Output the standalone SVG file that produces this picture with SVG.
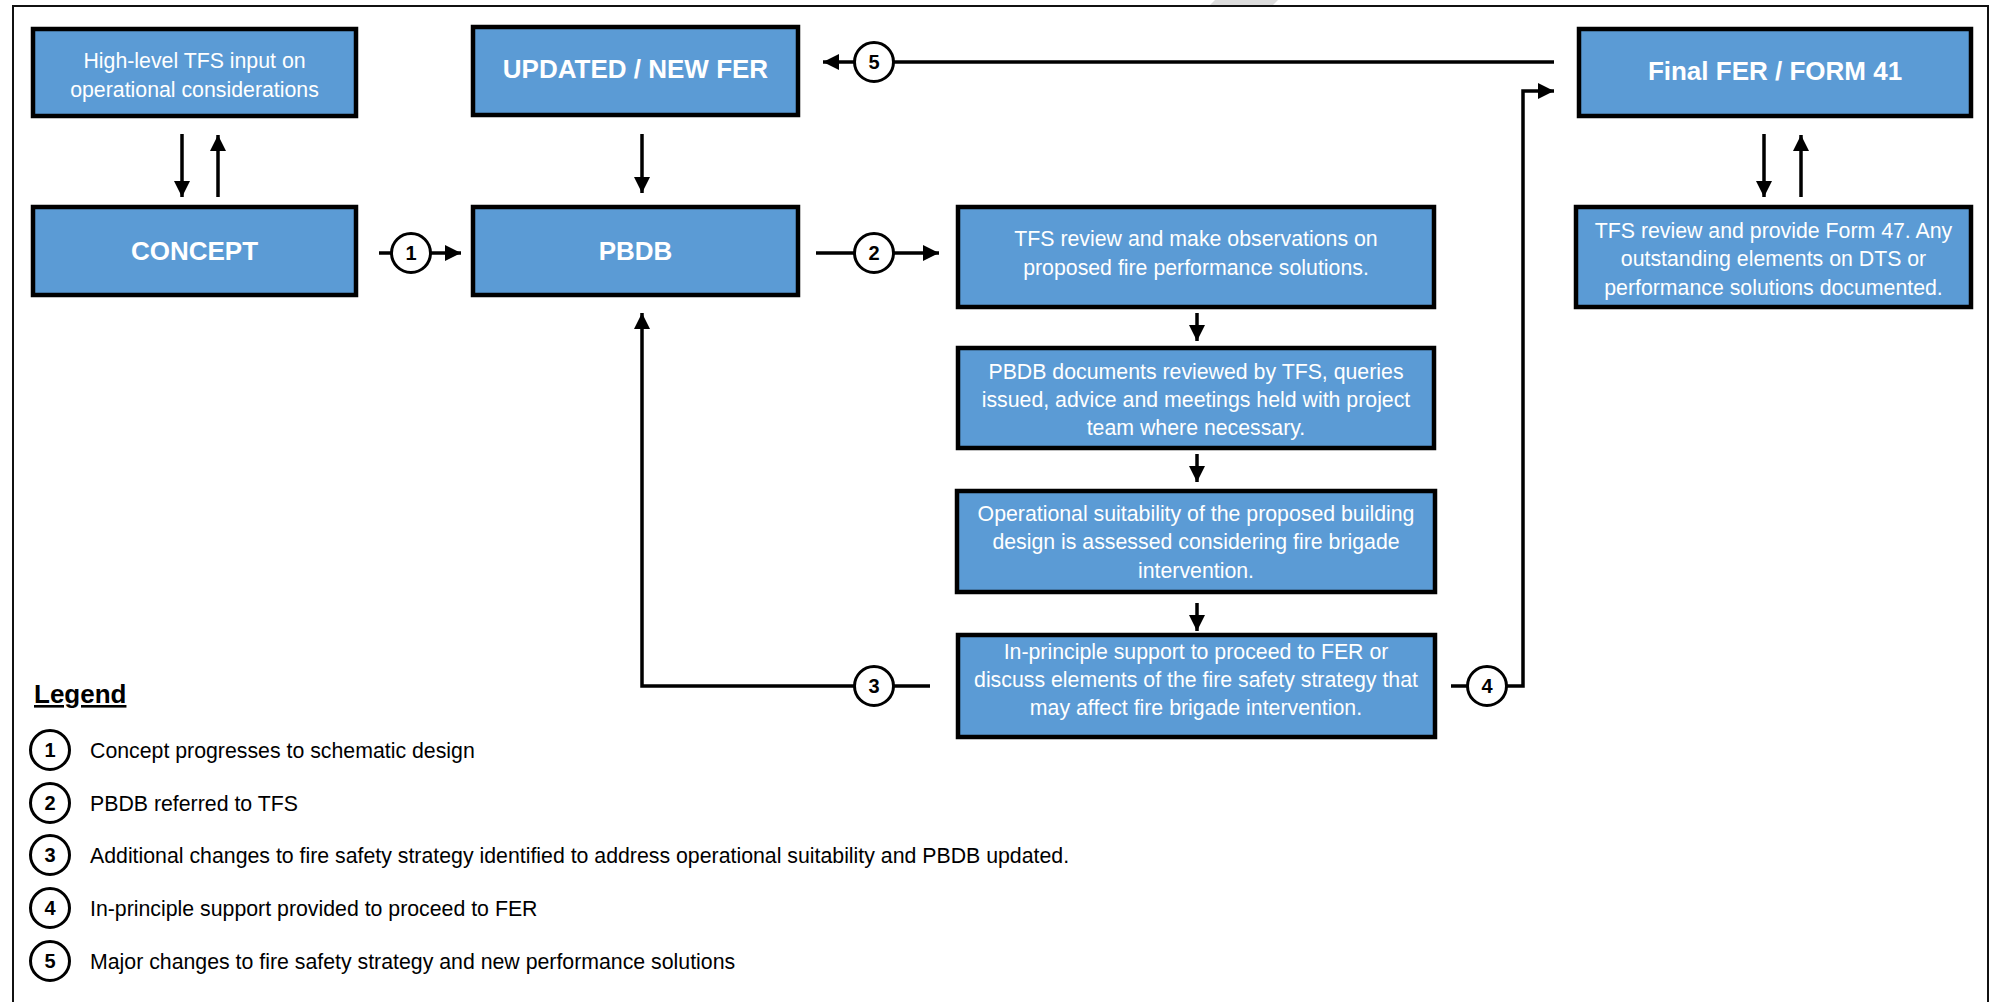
<svg xmlns="http://www.w3.org/2000/svg" width="1993" height="1002" viewBox="0 0 1993 1002">
<defs>
<style>
.box{fill:#5B9BD5;stroke:#000;stroke-width:4.5}
.t{font-family:"Liberation Sans",Arial,sans-serif;font-size:21.3px;fill:#fff;text-anchor:middle}
.tb{font-family:"Liberation Sans",Arial,sans-serif;font-size:26px;font-weight:bold;fill:#fff;text-anchor:middle}
.ln{fill:none;stroke:#000;stroke-width:3.5}
.c{fill:#fff;stroke:#000;stroke-width:3}
.n{font-family:"Liberation Sans",Arial,sans-serif;font-size:20px;font-weight:bold;fill:#000;text-anchor:middle}
.lg{font-family:"Liberation Sans",Arial,sans-serif;font-size:21.3px;fill:#000}
</style>
<marker id="ah" viewBox="0 0 16 16" refX="16" refY="8" markerWidth="16" markerHeight="16" markerUnits="userSpaceOnUse" orient="auto">
<path d="M0,0 L16,8 L0,16 Z" fill="#000"/>
</marker>
</defs>
<rect width="1993" height="1002" fill="#fff"/>
<polygon points="1215,0 1278,0 1273,5 1210,5" fill="#dcdcdc"/>
<polyline points="13,1002 13,6 1988,6 1988,1002" fill="none" stroke="#111" stroke-width="2"/>

<g id="connectors">
<line class="ln" x1="182" y1="134" x2="182" y2="197" marker-end="url(#ah)"/>
<line class="ln" x1="218" y1="197" x2="218" y2="135" marker-end="url(#ah)"/>
<line class="ln" x1="642" y1="134" x2="642" y2="193" marker-end="url(#ah)"/>
<line class="ln" x1="1764" y1="134" x2="1764" y2="197" marker-end="url(#ah)"/>
<line class="ln" x1="1801" y1="197" x2="1801" y2="135" marker-end="url(#ah)"/>
<line class="ln" x1="1197" y1="313" x2="1197" y2="341" marker-end="url(#ah)"/>
<line class="ln" x1="1197" y1="454" x2="1197" y2="482" marker-end="url(#ah)"/>
<line class="ln" x1="1197" y1="603" x2="1197" y2="631" marker-end="url(#ah)"/>
<!-- 1 -->
<line class="ln" x1="379" y1="253" x2="461" y2="253" marker-end="url(#ah)"/>
<!-- 2 -->
<line class="ln" x1="816" y1="253" x2="939" y2="253" marker-end="url(#ah)"/>
<!-- 5 -->
<line class="ln" x1="1554" y1="62" x2="823" y2="62" marker-end="url(#ah)"/>
<!-- 4 -->
<polyline class="ln" points="1451,686 1523,686 1523,91 1554,91" marker-end="url(#ah)"/>
<!-- 3 -->
<polyline class="ln" points="930,686 642,686 642,313" marker-end="url(#ah)"/>
<g id="c1"><circle class="c" cx="411" cy="253" r="19.5"/><text class="n" x="411" y="260">1</text></g>
<g id="c2"><circle class="c" cx="874" cy="253" r="19.5"/><text class="n" x="874" y="260">2</text></g>
<g id="c3"><circle class="c" cx="874" cy="686" r="19.5"/><text class="n" x="874" y="693">3</text></g>
<g id="c4"><circle class="c" cx="1487" cy="686" r="19.5"/><text class="n" x="1487" y="693">4</text></g>
<g id="c5"><circle class="c" cx="874" cy="62" r="19.5"/><text class="n" x="874" y="69">5</text></g>
</g>

<g id="highlevel"><rect class="box" x="33" y="29" width="323" height="87"/>
<text class="t" x="194.5" y="67.5">High-level TFS input on</text>
<text class="t" x="194.5" y="96.5">operational considerations</text></g>

<g id="updated"><rect class="box" x="473" y="27" width="325" height="88"/>
<text class="tb" x="635.5" y="78">UPDATED / NEW FER</text></g>

<g id="final"><rect class="box" x="1579" y="29" width="392" height="87"/>
<text class="tb" x="1775" y="80">Final FER / FORM 41</text></g>

<g id="concept"><rect class="box" x="33" y="207" width="323" height="88"/>
<text class="tb" x="194.5" y="260">CONCEPT</text></g>

<g id="pbdb"><rect class="box" x="473" y="207" width="325" height="88"/>
<text class="tb" x="635.5" y="260">PBDB</text></g>

<g id="tfsreview"><rect class="box" x="958" y="207" width="476" height="100"/>
<text class="t" x="1196" y="245.5">TFS review and make observations on</text>
<text class="t" x="1196" y="274.5">proposed fire performance solutions.</text></g>

<g id="pbdbdocs"><rect class="box" x="958" y="348" width="476" height="100"/>
<text class="t" x="1196" y="378.5">PBDB documents reviewed by TFS, queries</text>
<text class="t" x="1196" y="406.5">issued, advice and meetings held with project</text>
<text class="t" x="1196" y="434.5">team where necessary.</text></g>

<g id="operational"><rect class="box" x="957" y="491" width="478" height="101"/>
<text class="t" x="1196" y="520.5">Operational suitability of the proposed building</text>
<text class="t" x="1196" y="549">design is assessed considering fire brigade</text>
<text class="t" x="1196" y="577.5">intervention.</text></g>

<g id="inprinciple"><rect class="box" x="958" y="635" width="477" height="102"/>
<text class="t" x="1196" y="658.5">In-principle support to proceed to FER or</text>
<text class="t" x="1196" y="686.5">discuss elements of the fire safety strategy that</text>
<text class="t" x="1196" y="714.5">may affect fire brigade intervention.</text></g>

<g id="form47"><rect class="box" x="1576" y="207" width="395" height="100"/>
<text class="t" x="1773.5" y="237.5">TFS review and provide Form 47. Any</text>
<text class="t" x="1773.5" y="266">outstanding elements on DTS or</text>
<text class="t" x="1773.5" y="294.5">performance solutions documented.</text></g>

<g id="legend">
<text x="34" y="703" font-family="Liberation Sans, Arial, sans-serif" font-size="26" font-weight="bold" text-decoration="underline" fill="#000">Legend</text>
<circle class="c" cx="50" cy="750" r="19.5"/><text class="n" x="50" y="757">1</text>
<text class="lg" x="90" y="757.5">Concept progresses to schematic design</text>
<circle class="c" cx="50" cy="803" r="19.5"/><text class="n" x="50" y="810">2</text>
<text class="lg" x="90" y="810.5">PBDB referred to TFS</text>
<circle class="c" cx="50" cy="855" r="19.5"/><text class="n" x="50" y="862">3</text>
<text class="lg" x="90" y="862.5">Additional changes to fire safety strategy identified to address operational suitability and PBDB updated.</text>
<circle class="c" cx="50" cy="908" r="19.5"/><text class="n" x="50" y="915">4</text>
<text class="lg" x="90" y="915.5">In-principle support provided to proceed to FER</text>
<circle class="c" cx="50" cy="961" r="19.5"/><text class="n" x="50" y="968">5</text>
<text class="lg" x="90" y="968.5">Major changes to fire safety strategy and new performance solutions</text>
</g>
</svg>
